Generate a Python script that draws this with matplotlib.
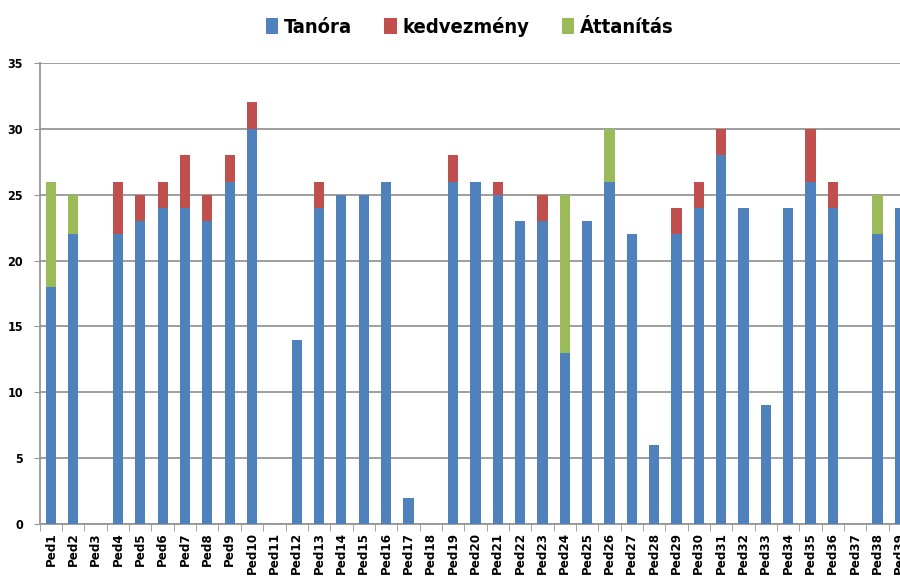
import numpy as np
import matplotlib.pyplot as plt

plt.rcParams['font.family'] = ['DejaVu Sans']
plt.rcParams['font.stretch'] = 'condensed'

# adatok
ped = ['Ped%d' % i for i in range(1, 40)]
tanora = [18, 22, 0, 22, 23, 24, 24, 23, 26, 30,
          0, 14, 24, 25, 25, 26, 2, 0, 26, 26,
          25, 23, 23, 13, 23, 26, 22, 6, 22, 24,
          28, 24, 9, 24, 26, 24, 0, 22, 24]
kedvezmeny = [0, 0, 0, 4, 2, 2, 4, 2, 2, 2,
              0, 0, 2, 0, 0, 0, 0, 0, 2, 0,
              1, 0, 2, 0, 0, 0, 0, 0, 2, 2,
              2, 0, 0, 0, 4, 2, 0, 0, 0]
attanitas = [8, 3, 0, 0, 0, 0, 0, 0, 0, 0,
             0, 0, 0, 0, 0, 0, 0, 0, 0, 0,
             0, 0, 0, 12, 0, 4, 0, 0, 0, 0,
             0, 0, 0, 0, 0, 0, 0, 3, 0]

kek = '#4F81BD'
piros = '#C0504D'
zold = '#9BBB59'

fig = plt.figure(figsize=(9, 5.76), dpi=100)
ax = fig.add_axes([0.0442, 0.0903, 0.968, 0.8004])

x = np.arange(len(ped))
t = np.array(tanora)
k = np.array(kedvezmeny)
a = np.array(attanitas)
w = 0.46
ax.bar(x, t, w, color=kek, label='Tanóra', zorder=3)
ax.bar(x, k, w, bottom=t, color=piros, label='kedvezmény', zorder=3)
ax.bar(x, a, w, bottom=t + k, color=zold, label='Áttanítás', zorder=3)

ax.set_xlim(-0.5, len(ped) - 0.5)
ax.set_ylim(0, 35)
ax.set_yticks(range(0, 36, 5))
ax.grid(axis='y', color='#969696', linewidth=1.3, zorder=0)
ax.set_xticks(x)
ax.set_xticklabels(ped, rotation=90, fontsize=9.5, fontweight='bold')
ax.set_xticks(np.arange(-0.5, len(ped), 1), minor=True)
ax.tick_params(axis='x', which='major', length=0, pad=6)
ax.tick_params(axis='x', which='minor', length=5, color='#969696')
ax.tick_params(axis='y', length=4, color='#969696', labelsize=9, pad=8)
for lbl in ax.get_yticklabels():
    lbl.set_fontweight('bold')
for s in ['top', 'right']:
    ax.spines[s].set_visible(False)
for s in ['left', 'bottom']:
    ax.spines[s].set_color('#969696')
    ax.spines[s].set_linewidth(1.3)

fig.legend(loc='center', bbox_to_anchor=(0.522, 0.953), ncol=3, frameon=False,
           prop={'weight': 'bold', 'size': 14.5, 'stretch': 'condensed'},
           handlelength=0.6, handleheight=0.9,
           handletextpad=0.3, columnspacing=1.6)

fig.savefig('out.png', dpi=100)
